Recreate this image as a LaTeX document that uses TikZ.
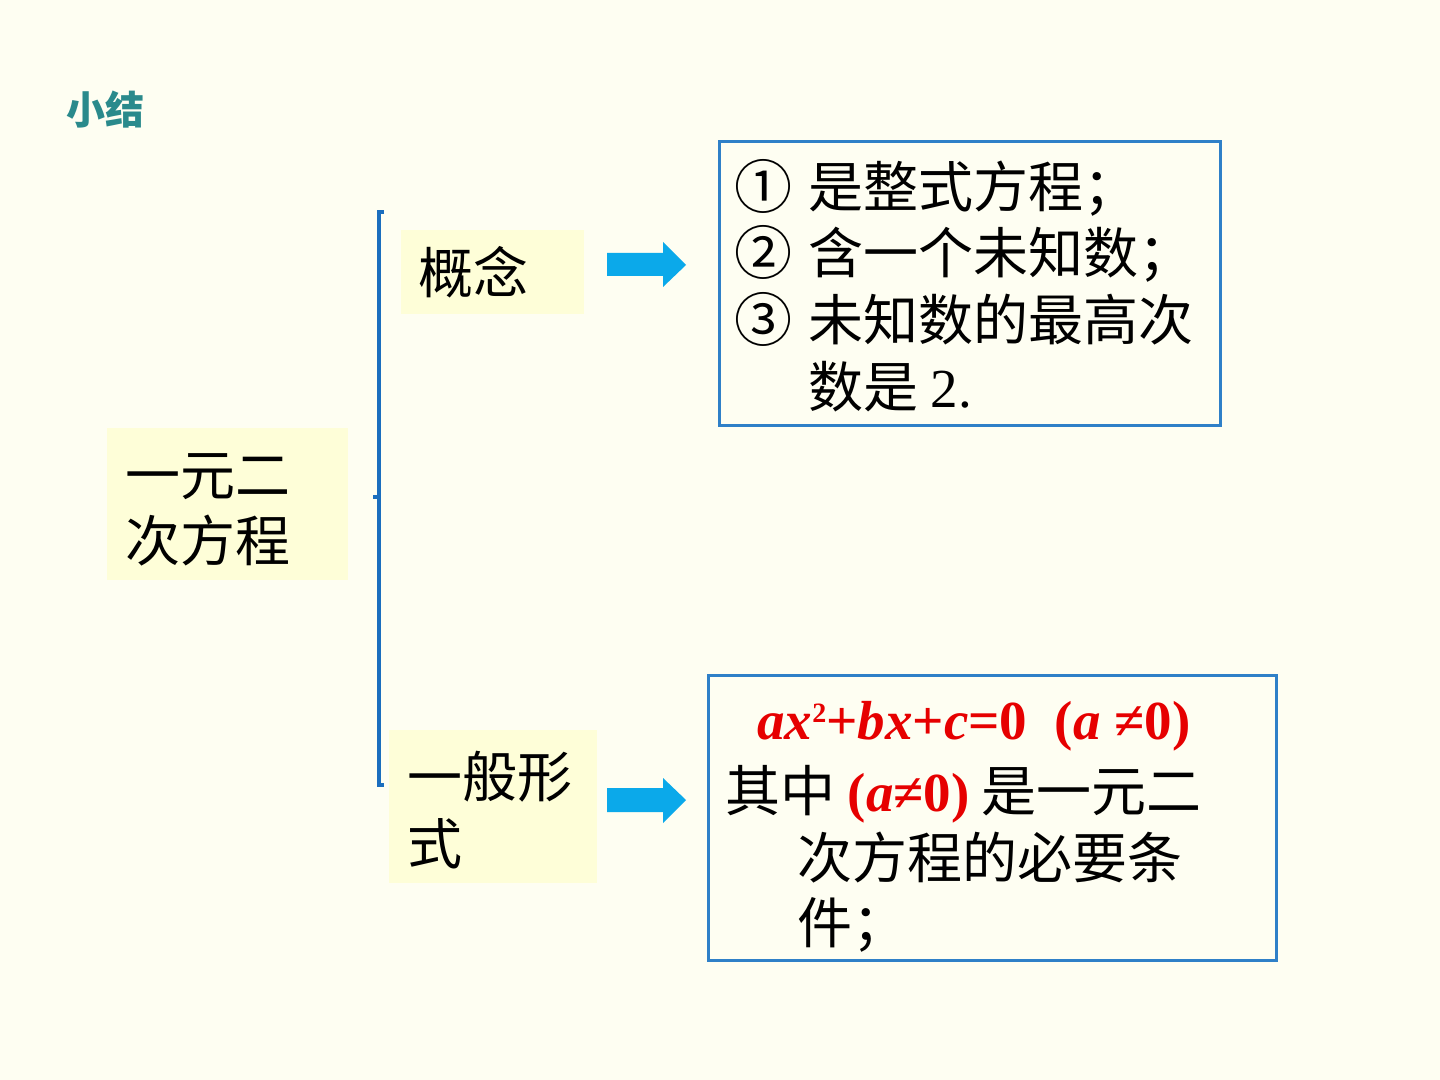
\documentclass[tikz,border=0pt]{standalone}
\usepackage{fontspec}
\setmainfont{Noto Sans CJK SC}
\newfontfamily\tnr{Liberation Serif}
\usetikzlibrary{fit}
\definecolor{bgc}{HTML}{FEFEF2}
\definecolor{yfill}{HTML}{FEFED8}
\definecolor{teal1}{HTML}{2A8A8C}
\definecolor{bord}{HTML}{2F80C8}
\definecolor{brk}{HTML}{1B6EBE}
\definecolor{arr}{HTML}{0BA9EA}
\definecolor{redf}{HTML}{E60000}
\newcommand\zhbig{\fontsize{27.5pt}{33pt}\selectfont}
\newcommand\redmath[1]{{\color{redf}\tnr\bfseries #1}}
\newcommand\smallsq{\raisebox{8.5pt}{\fontsize{14pt}{14pt}\selectfont 2}}
\tikzset{
  ybox/.style={fill=yfill, draw=none, inner sep=0pt},
  bbox/.style={draw=bord, line width=1.5pt, fill=none, inner sep=0pt},
  txt/.style={anchor=base west, inner sep=0pt, font=\zhbig},
  blockarrow/.style={fill=arr, draw=none},
  bracket/.style={draw=brk, line width=1.6pt}
}
\begin{document}
\begin{tikzpicture}[x=0.5pt, y=-0.5pt]
\useasboundingbox (0,0) rectangle (1440,1080);
\fill[bgc] (0,0) rectangle (1440,1080);

% title
\node[anchor=base west, inner sep=0pt, text=teal1, font=\fontsize{19.5pt}{24pt}\selectfont\bfseries] (title) at (66,125) {小结};

% yellow boxes
\node[ybox, fit={(107,428)(348,580)}] (main) {};
\node[ybox, fit={(401,230)(584,314)}] (concept) {};
\node[ybox, fit={(389,730)(597,883)}] (general) {};

\node[txt] (m1) at (125,495) {一元二};
\node[txt] (m2) at (125,561) {次方程};
\node[txt] (c1) at (418,294) {概念};
\node[txt] (g1) at (407,797) {一般形};
\node[txt] (g2) at (407,864) {式};

% bracket
\coordinate (bt) at (379,212);
\coordinate (bb) at (379,785);
\coordinate (bm) at (379,497);
\draw[bracket] ([xshift=2.5pt]bt) -- (bt) -- (bb) -- ([xshift=2.5pt]bb);
\draw[bracket] (bm) -- ([xshift=-3pt]bm);

% block arrows
\fill[blockarrow] (607,253) -- (663,253) -- (663,242) -- (686,265) -- (663,287) -- (663,276) -- (607,276) -- cycle;
\fill[blockarrow] (607,788) -- (663,788) -- (663,778) -- (686,800) -- (663,823) -- (663,812) -- (607,812) -- cycle;

% box 1
\node[bbox, fit={(719,142)(1220,426)}] (box1) {};
\node[txt, font=\fontsize{29pt}{33pt}\selectfont] (n1) at (734,209) {①};
\node[txt] (l1) at (808,208) {是整式方程；};
\node[txt, font=\fontsize{29pt}{33pt}\selectfont] (n2) at (734,275) {②};
\node[txt] (l2) at (808,274) {含一个未知数；};
\node[txt, font=\fontsize{29pt}{33pt}\selectfont] (n3) at (734,342) {③};
\node[txt] (l3) at (808,341) {未知数的最高次};
\node[txt] (l4) at (808,408) {数是 {\tnr 2.}};

% box 2
\node[bbox, fit={(708,675)(1276,960)}] (box2) {};
\node[anchor=base west, inner sep=0pt, font=\fontsize{27.5pt}{32pt}\selectfont] (f1) at (757,739)
  {\redmath{\textit{ax}\smallsq+\textit{bx}+\textit{c}=0\ \ (\textit{a} ≠0)}};
\node[txt] (k1) at (725,811) {其中 \redmath{(\textit{a}≠0)} 是一元二};
\node[txt] (k2) at (797,878) {次方程的必要条};
\node[txt] (k3) at (797,943) {件；};
\end{tikzpicture}
\end{document}
